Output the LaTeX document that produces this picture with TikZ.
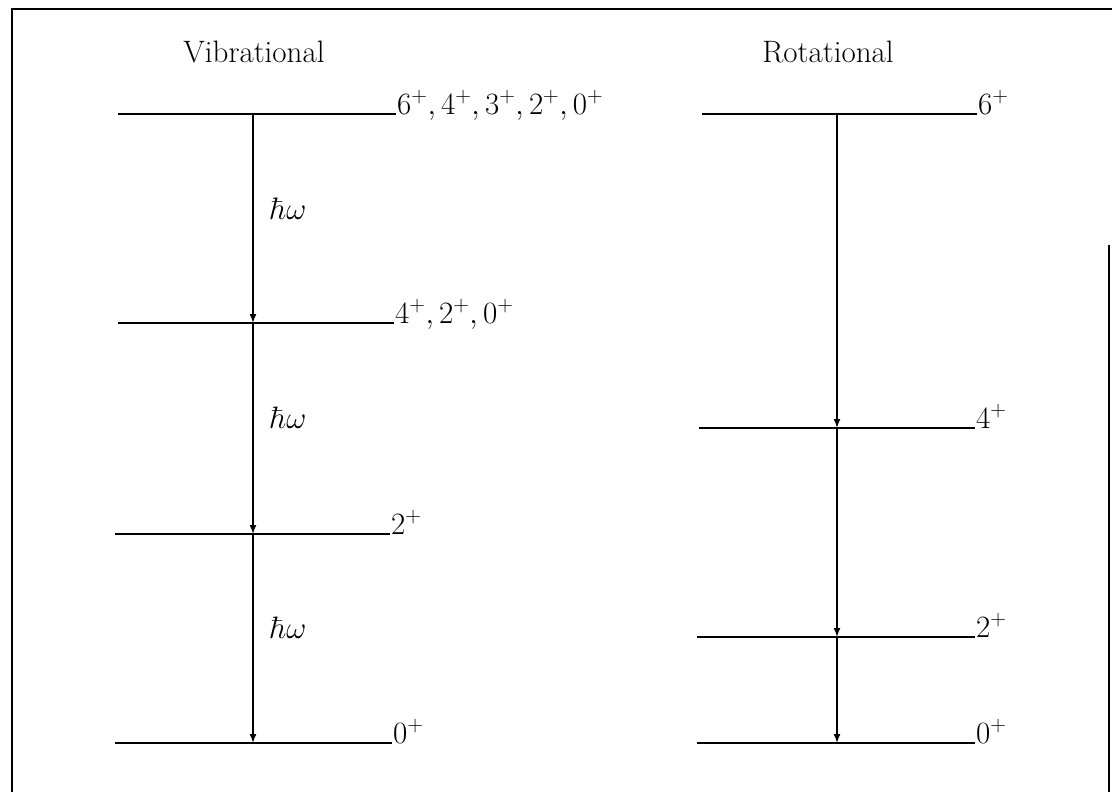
\RequirePackage{fix-cm}
\documentclass[tikz,border=0pt]{standalone}
\usetikzlibrary{arrows.meta}
\begin{document}
\begin{tikzpicture}[x=1pt,y=-1pt,
  level/.style={line width=2pt},
  trans/.style={line width=1.5pt,-{Latex[length=9pt,width=7pt]}},
  lab/.style={anchor=base west,inner sep=1pt,font=\fontsize{31}{37}\selectfont},
  head/.style={anchor=base,inner sep=0pt,font=\fontsize{31}{37}\selectfont},
  hw/.style={anchor=west,inner sep=0pt,font=\fontsize{31}{37}\selectfont},
  frame/.style={line width=2.5pt}]
\useasboundingbox (0,0) rectangle (1112,792);
% frame
\draw[frame] (12,800) -- (12,9) -- (1112,9);
\draw[frame] (1109,245) -- (1109,800);
% headings
\node[head] (hv) at (254,63) {Vibrational};
\node[head] (hr) at (828,63) {Rotational};
% vibrational levels
\coordinate (v6a) at (118,114); \coordinate (v6b) at (396,114);
\coordinate (v4a) at (118,323); \coordinate (v4b) at (394,323);
\coordinate (v2a) at (115,534); \coordinate (v2b) at (390,534);
\coordinate (v0a) at (115,743); \coordinate (v0b) at (392,743);
\draw[level] (v6a) -- (v6b);
\draw[level] (v4a) -- (v4b);
\draw[level] (v2a) -- (v2b);
\draw[level] (v0a) -- (v0b);
\node[lab] (lv6) at (v6b) {$6^+, 4^+, 3^+, 2^+, 0^+$};
\node[lab] (lv4) at (v4b) {$4^+, 2^+, 0^+$};
\node[lab] (lv2) at (v2b) {$2^+$};
\node[lab] (lv0) at (v0b) {$0^+$};
\coordinate (v6) at (253,114);
\coordinate (v4) at (253,323);
\coordinate (v2) at (253,534);
\coordinate (v0) at (253,743);
\draw[trans] (v6) -- (v4);
\draw[trans] (v4) -- (v2);
\draw[trans] (v2) -- (v0);
\node[hw] (w1) at (270,209) {$\hbar\omega$};
\node[hw] (w2) at (270,418) {$\hbar\omega$};
\node[hw] (w3) at (270,628) {$\hbar\omega$};
% rotational levels
\coordinate (r6a) at (702,114); \coordinate (r6b) at (977,114);
\coordinate (r4a) at (699,428); \coordinate (r4b) at (975,428);
\coordinate (r2a) at (697,637); \coordinate (r2b) at (975,637);
\coordinate (r0a) at (697,743); \coordinate (r0b) at (975,743);
\draw[level] (r6a) -- (r6b);
\draw[level] (r4a) -- (r4b);
\draw[level] (r2a) -- (r2b);
\draw[level] (r0a) -- (r0b);
\node[lab] (lr6) at (r6b) {$6^+$};
\node[lab] (lr4) at (r4b) {$4^+$};
\node[lab] (lr2) at (r2b) {$2^+$};
\node[lab] (lr0) at (r0b) {$0^+$};
\coordinate (r6) at (837,114);
\coordinate (r4) at (837,428);
\coordinate (r2) at (837,637);
\coordinate (r0) at (837,743);
\draw[trans] (r6) -- (r4);
\draw[trans] (r4) -- (r2);
\draw[trans] (r2) -- (r0);
\end{tikzpicture}
\end{document}
